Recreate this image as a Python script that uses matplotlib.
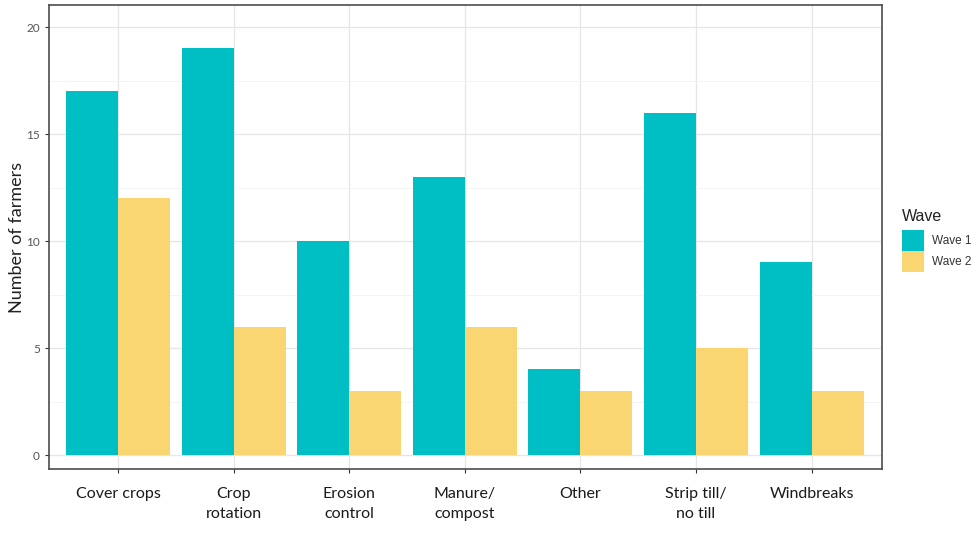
import matplotlib
matplotlib.use("Agg")
import matplotlib.pyplot as plt
import numpy as np
from matplotlib.patches import Patch

plt.rcParams['font.family'] = ['Lato', 'DejaVu Sans']

categories = ["Cover crops", "Crop\nrotation", "Erosion\ncontrol", "Manure/\ncompost",
              "Other", "Strip till/\nno till", "Windbreaks"]
wave1 = [17, 19, 10, 13, 4, 16, 9]
wave2 = [12, 6, 3, 6, 3, 5, 3]
yticks = [0, 5, 10, 15, 20]

c1 = '#00BFC4'
c2 = '#FAD673'

fig = plt.figure(figsize=(9.77, 5.34), dpi=100)
ax = fig.add_axes([49/977, 65/534, 833/977, 464/534])

x = np.arange(1, len(categories) + 1)
w = 0.45
ax.bar(x - w/2, wave1, width=w, color=c1, zorder=3)
ax.bar(x + w/2, wave2, width=w, color=c2, zorder=3)

ax.set_xlim(0.40, 7.61)
ax.set_ylim(-0.65, 21.03)
ax.set_xticks(x)
ax.set_xticklabels(categories, fontsize=11.5, color='#1a1a1a', linespacing=1.5)
ax.set_yticks(yticks)
ax.set_yticklabels([str(t) for t in yticks], fontsize=8.5, color='#555555')
ax.set_yticks([2.5, 7.5, 12.5, 17.5], minor=True)
ax.grid(which='major', color='#e6e6e6', linewidth=0.9, zorder=0)
ax.grid(which='minor', axis='y', color='#f2f2f2', linewidth=0.6, zorder=0)
ax.tick_params(axis='both', which='major', color='#333333', length=3)
ax.tick_params(axis='y', which='minor', length=0)
ax.tick_params(axis='x', pad=10)
for s in ax.spines.values():
    s.set_color('#4d4d4d')
    s.set_linewidth(1.2)
ax.set_ylabel("Number of farmers", fontsize=13, color='#222222', labelpad=1)

handles = [Patch(facecolor=c1, label='Wave 1'), Patch(facecolor=c2, label='Wave 2')]
leg = fig.legend(handles=handles, title='Wave', loc='upper left',
                 bbox_to_anchor=(902/977, 1 - 209/534), frameon=False,
                 prop={'family': 'Liberation Sans', 'size': 8.5},
                 handlelength=1.85, handleheight=2.4,
                 handletextpad=0.7, labelspacing=0.0, borderaxespad=0,
                 borderpad=0)
leg.get_title().set_fontfamily('Liberation Sans')
leg.get_title().set_fontsize(11.5)
leg.get_title().set_color('#222222')
leg._legend_box.align = 'left'
leg._legend_box.sep = 4
for t in leg.get_texts():
    t.set_color('#333333')

fig.savefig('out.png', dpi=100)
